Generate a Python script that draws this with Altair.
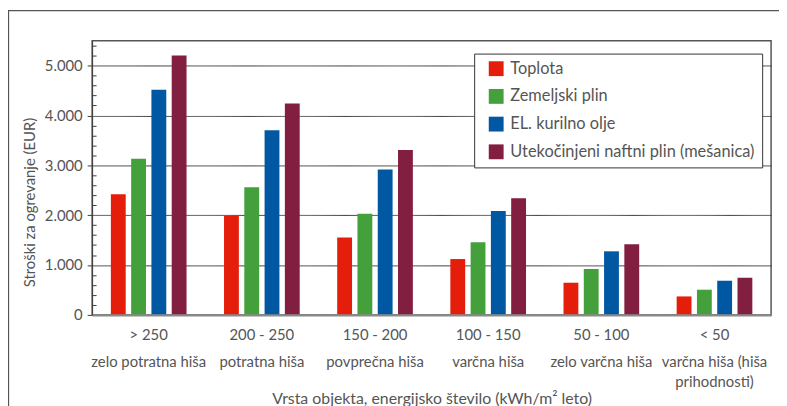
import altair as alt
import pandas as pd

ranges = ["> 250", "200 - 250", "150 - 200", "100 - 150", "50 - 100", "< 50"]
descriptions = [["zelo potratna hiša"], ["potratna hiša"], ["povprečna hiša"],
                ["varčna hiša"], ["zelo varčna hiša"], ["varčna hiša (hiša", "prihodnosti)"]]
series = ["Toplota", "Zemeljski plin", "EL. kurilno olje", "Utekočinjeni naftni plin (mešanica)"]
toplota = [2420, 1990, 1550, 1120, 645, 370]
zemeljski = [3130, 2560, 2030, 1455, 920, 505]
kurilno = [4515, 3705, 2915, 2085, 1275, 685]
naftni = [5205, 4240, 3310, 2340, 1415, 745]
colors = ["#E41E0A", "#43A03B", "#0057A2", "#821E40"]
y_ticks = [0, 200, 400, 600, 800, 1000, 1200, 1400, 1600, 1800, 2000, 2200, 2400, 2600,
           2800, 3000, 3200, 3400, 3600, 3800, 4000, 4200, 4400, 4600, 4800, 5000, 5200, 5400]

FONT = "Lato"
TXT = "#555555"

rows = []
for s, vals in zip(series, [toplota, zemeljski, kurilno, naftni]):
    for r, v in zip(ranges, vals):
        rows.append({"range": r, "series": s, "value": v})
df = pd.DataFrame(rows)

xscale = alt.Scale(domain=ranges, paddingInner=0, paddingOuter=0)

desc_expr = ("[" + ",".join("[" + ",".join("'" + l + "'" for l in d) + "]" for d in descriptions) + "]"
             + "[indexof([" + ",".join("'" + r + "'" for r in ranges) + "], datum.value)]")

bars = alt.Chart(df).mark_bar().encode(
    x=alt.X("range:N", sort=ranges, scale=xscale,
            axis=alt.Axis(orient="bottom", ticks=False, domainColor="#8a8a8a", domainWidth=2.5,
                          labelPadding=13, labelFontSize=15, labelColor=TXT, labelFont=FONT,
                          labelAngle=0, zindex=1,
                          title="Vrsta objekta, energijsko število (kWh/m² leto)",
                          titleFont=FONT, titleFontSize=16, titleFontWeight="normal",
                          titleColor=TXT, titleY=85, titleBaseline="middle")),
    xOffset=alt.XOffset("series:N", sort=series,
                        scale=alt.Scale(domain=series, paddingInner=0.268, paddingOuter=0.924)),
    y=alt.Y("value:Q", scale=alt.Scale(domain=[0, 5500], nice=False),
            axis=alt.Axis(values=y_ticks, labelOverlap=False,
                          labelExpr="datum.value % 1000 === 0 ? replace(format(datum.value, ','), ',', '.') : ''",
                          grid=True, gridColor="#3c3c3c", gridWidth=1,
                          gridDash={"condition": {"test": "datum.value % 1000 === 0", "value": [1, 0]},
                                    "value": [4, 3000]},
                          tickSize={"condition": {"test": "datum.value % 1000 === 0", "value": 5},
                                    "value": 0},
                          tickColor="#3c3c3c", domainColor="#3c3c3c",
                          labelFont=FONT, labelFontSize=15, labelColor=TXT, labelPadding=5,
                          title="Stroški za ogrevanje (EUR)", titleFont=FONT, titleFontSize=15,
                          titleFontWeight="normal", titleColor=TXT, titleAngle=270,
                          titleX=-63, titleY=163, titleAlign="center", titleBaseline="middle")),
    color=alt.Color("series:N", sort=series, scale=alt.Scale(domain=series, range=colors),
                    legend=alt.Legend(title=None, orient="none", legendX=386, legendY=13,
                                      direction="vertical", symbolType="square", symbolSize=225,
                                      symbolStrokeWidth=0, symbolOffset=7, labelOffset=6,
                                      padding=7, rowPadding=11, fillColor="white",
                                      strokeColor="#333333", labelFontSize=16.5, labelColor=TXT,
                                      labelFont=FONT, labelLimit=400)),
)

desc = alt.Chart(df).mark_point(opacity=0).encode(
    x=alt.X("range:N", sort=ranges, scale=xscale,
            axis=alt.Axis(orient="bottom", ticks=False, domain=False, labelExpr=desc_expr,
                          labelPadding=40, labelLineHeight=20, labelFontSize=15,
                          labelColor=TXT, labelFont=FONT, labelAngle=0, title=None)),
)

frame = alt.Chart(pd.DataFrame({"k": [0]})).mark_rect(
    fillOpacity=0, stroke="#555555", strokeWidth=1.3, clip=False
).encode(x=alt.value(-84.5), x2=alt.value(800), y=alt.value(-30.5), y2=alt.value(420))

chart = alt.layer(bars, desc, frame).resolve_axis(x="independent").properties(
    width=686, height=277,
    autosize=alt.AutoSizeParams(type="none"),
    padding={"left": 85, "top": 31, "right": 8, "bottom": 90},
).configure_view(stroke="#555555", strokeWidth=1.5)

chart.save("out.html", embed_options={"renderer": "svg", "actions": False})
